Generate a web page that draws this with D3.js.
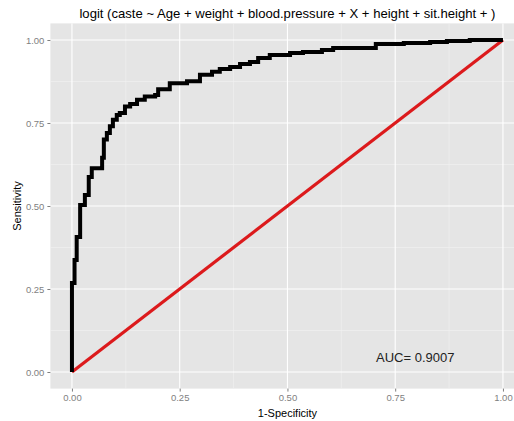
<!DOCTYPE html>
<html>
<head>
<meta charset="utf-8">
<script src="https://cdn.jsdelivr.net/npm/d3@7"></script>
<style>
body { margin: 0; background: #fff; }
text { font-family: "Liberation Sans", Arial, sans-serif; }
</style>
</head>
<body>
<script>
// ROC curve points (1-specificity, sensitivity), drawn as steps
var fpr = [0, 0, 0.006, 0.011, 0.019, 0.030, 0.039, 0.046, 0.070, 0.074, 0.081, 0.088, 0.095,
           0.104, 0.111, 0.123, 0.135, 0.151, 0.169, 0.193, 0.200, 0.227, 0.267, 0.297, 0.325,
           0.343, 0.367, 0.390, 0.413, 0.432, 0.459, 0.506, 0.536, 0.580, 0.606, 0.705, 0.770,
           0.831, 0.870, 0.923, 1.0];
var tpr = [0, 0.268, 0.337, 0.407, 0.503, 0.533, 0.587, 0.614, 0.645, 0.700, 0.720, 0.740, 0.760,
           0.774, 0.780, 0.800, 0.807, 0.820, 0.830, 0.834, 0.852, 0.870, 0.876, 0.895, 0.904,
           0.913, 0.919, 0.928, 0.934, 0.946, 0.955, 0.961, 0.964, 0.970, 0.976, 0.988, 0.991,
           0.994, 0.997, 1.0, 1.0];
var diag = [0, 1];
var ticks = [0, 0.25, 0.5, 0.75, 1];
var minorTicks = [0.125, 0.375, 0.625, 0.875];
var title = "logit (caste ~ Age + weight + blood.pressure + X + height + sit.height + )";
var aucLabel = "AUC= 0.9007";

var w = 514, h = 421;
var pLeft = 50.4, pRight = 524.5, pTop = 23.4, pBottom = 388.6;

var x = d3.scaleLinear().domain([-0.05, 1.05]).range([pLeft, pRight]);
var y = d3.scaleLinear().domain([-0.05, 1.05]).range([pBottom, pTop]);

var svg = d3.select("body").append("svg")
    .attr("width", w)
    .attr("height", h);

// panel
svg.append("rect")
   .attr("x", pLeft).attr("y", pTop)
   .attr("width", pRight - pLeft).attr("height", pBottom - pTop)
   .attr("fill", "#e5e5e5");

// minor grid
svg.selectAll("line.minx").data(minorTicks).enter().append("line")
   .attr("x1", function(d) { return x(d); }).attr("x2", function(d) { return x(d); })
   .attr("y1", pTop).attr("y2", pBottom)
   .attr("stroke", "#f2f2f2").attr("stroke-width", 0.6);
svg.selectAll("line.miny").data(minorTicks).enter().append("line")
   .attr("y1", function(d) { return y(d); }).attr("y2", function(d) { return y(d); })
   .attr("x1", pLeft).attr("x2", pRight)
   .attr("stroke", "#f2f2f2").attr("stroke-width", 0.6);

// major grid
svg.selectAll("line.majx").data(ticks).enter().append("line")
   .attr("x1", function(d) { return x(d); }).attr("x2", function(d) { return x(d); })
   .attr("y1", pTop).attr("y2", pBottom)
   .attr("stroke", "#fff").attr("stroke-width", 1.1);
svg.selectAll("line.majy").data(ticks).enter().append("line")
   .attr("y1", function(d) { return y(d); }).attr("y2", function(d) { return y(d); })
   .attr("x1", pLeft).attr("x2", pRight)
   .attr("stroke", "#fff").attr("stroke-width", 1.1);

// axes
var fmt = d3.format(".2f");
var xAxis = svg.append("g")
   .attr("transform", "translate(0," + pBottom + ")")
   .call(d3.axisBottom(x).tickValues(ticks).tickFormat(fmt).tickSize(3).tickPadding(3));
var yAxis = svg.append("g")
   .attr("transform", "translate(" + pLeft + ",0)")
   .call(d3.axisLeft(y).tickValues(ticks).tickFormat(fmt).tickSize(3).tickPadding(3));
[xAxis, yAxis].forEach(function(g) {
  g.select(".domain").remove();
  g.selectAll(".tick line").attr("stroke", "#7f7f7f");
  g.selectAll(".tick text").attr("fill", "#7f7f7f").style("font-size", "9.5px")
   .style("font-family", "'Liberation Sans', Arial, sans-serif");
});

// diagonal
svg.append("line")
   .attr("x1", x(diag[0])).attr("y1", y(diag[0]))
   .attr("x2", x(diag[1])).attr("y2", y(diag[1]))
   .attr("stroke", "#dc1a1c").attr("stroke-width", 3.2);

// ROC curve
var pts = fpr.map(function(d, i) { return [d, tpr[i]]; });
var line = d3.line()
   .x(function(d) { return x(d[0]); })
   .y(function(d) { return y(d[1]); })
   .curve(d3.curveStepAfter);
svg.append("path")
   .attr("d", line(pts))
   .attr("fill", "none")
   .attr("stroke", "#000")
   .attr("stroke-width", 4)
   .attr("stroke-linejoin", "miter");

// AUC label
svg.append("text")
   .attr("x", 376).attr("y", 362)
   .attr("fill", "#222")
   .style("font-size", "13px")
   .text(aucLabel);

// title
svg.append("text")
   .attr("x", (pLeft + pRight) / 2).attr("y", 18)
   .attr("text-anchor", "middle")
   .style("font-size", "13.1px")
   .text(title);

// axis titles
svg.append("text")
   .attr("x", (pLeft + pRight) / 2).attr("y", 417)
   .attr("text-anchor", "middle")
   .style("font-size", "11px")
   .text("1-Specificity");
svg.append("text")
   .attr("transform", "translate(21," + ((pTop + pBottom) / 2) + ") rotate(-90)")
   .attr("text-anchor", "middle")
   .style("font-size", "11px")
   .text("Sensitivity");
</script>
</body>
</html>
